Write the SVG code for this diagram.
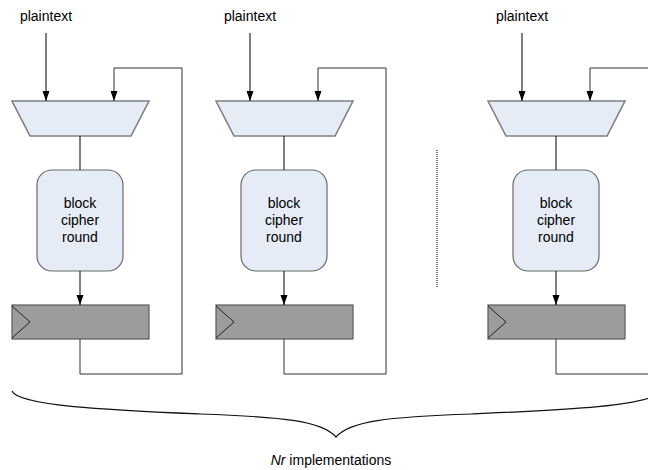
<svg xmlns="http://www.w3.org/2000/svg" width="648" height="470" viewBox="0 0 648 470">
<style>
text{font-family:"Liberation Sans",Arial,sans-serif;font-size:14px;fill:#000;text-anchor:middle}
.mux{fill:#e6ecf6;stroke:#808080;stroke-width:1.6}
.blk{fill:#e6ecf6;stroke:#6a6a6a;stroke-width:1.2}
.reg{fill:#9c9c9c;stroke:#5a5a5a;stroke-width:1.2}
.clk{fill:none;stroke:#222;stroke-width:1}
.wire{fill:none;stroke:#000;stroke-width:1}
.fb{fill:none;stroke:#333;stroke-width:1}
.arr{marker-end:url(#ah)}
</style>
<defs>
<marker id="ah" markerUnits="userSpaceOnUse" markerWidth="10" markerHeight="8" refX="10" refY="3.5" orient="auto">
<path d="M0,0 L10,3.5 L0,7 z" fill="#000"/>
</marker>
</defs>
<g id="col1">
<g id="in1"><text x="46" y="21">plaintext</text></g>
<g id="mux1"><polygon class="mux" points="12,101 149,101 131,136 30,136"/></g>
<g id="round1"><rect class="blk" x="37" y="170" width="86" height="101" rx="15"/><text x="80" y="208">block</text><text x="80" y="225">cipher</text><text x="80" y="242">round</text></g>
<g id="reg1"><rect class="reg" x="12" y="305" width="137" height="34"/><polyline class="clk" points="12,306 30,322 12,338"/></g>
</g>
<g id="col2">
<g id="in2"><text x="250" y="21">plaintext</text></g>
<g id="mux2"><polygon class="mux" points="216,101 353,101 335,136 234,136"/></g>
<g id="round2"><rect class="blk" x="241" y="170" width="86" height="101" rx="15"/><text x="284" y="208">block</text><text x="284" y="225">cipher</text><text x="284" y="242">round</text></g>
<g id="reg2"><rect class="reg" x="216" y="305" width="137" height="34"/><polyline class="clk" points="216,306 234,322 216,338"/></g>
</g>
<g id="col3">
<g id="in3"><text x="522" y="21">plaintext</text></g>
<g id="mux3"><polygon class="mux" points="488,101 625,101 607,136 506,136"/></g>
<g id="round3"><rect class="blk" x="513" y="170" width="86" height="101" rx="15"/><text x="556" y="208">block</text><text x="556" y="225">cipher</text><text x="556" y="242">round</text></g>
<g id="reg3"><rect class="reg" x="488" y="305" width="137" height="34"/><polyline class="clk" points="488,306 506,322 488,338"/></g>
</g>
<g id="connectors">
<path class="wire arr" d="M46,33 V101"/>
<path class="wire" d="M80,136 V170"/>
<path class="wire arr" d="M80,271 V305"/>
<path class="fb arr" d="M80,339 V374 H182 V68 H114 V101"/>
<path class="wire arr" d="M250,33 V101"/>
<path class="wire" d="M284,136 V170"/>
<path class="wire arr" d="M284,271 V305"/>
<path class="fb arr" d="M284,339 V374 H386 V68 H318 V101"/>
<path class="wire arr" d="M522,33 V101"/>
<path class="wire" d="M556,136 V170"/>
<path class="wire arr" d="M556,271 V305"/>
<path class="fb arr" d="M556,339 V374 H658 V68 H590 V101"/>
</g>
<g id="ellipsis"><line x1="437" y1="150" x2="437" y2="288" stroke="#000" stroke-width="1" stroke-dasharray="1,1"/></g>
<g id="brace">
<path d="M12,391 C18,406 110,410 200,414 C285,417 322,421 336,437 C350,421 387,417 472,414 C562,410 654,406 660,391" fill="none" stroke="#111" stroke-width="1.2"/>
<text x="331" y="465" font-size="13.3"><tspan font-style="italic">Nr</tspan> implementations</text>
</g>
</svg>
